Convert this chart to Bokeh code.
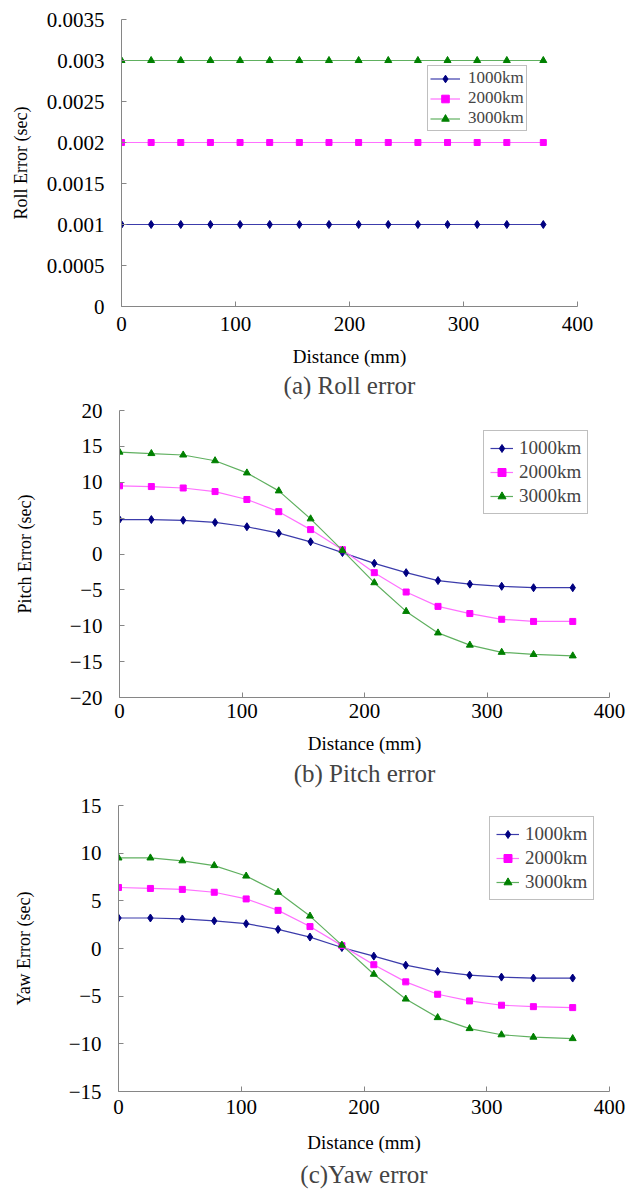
from bokeh.plotting import figure
from bokeh.models import Range1d, FixedTicker, Legend
from bokeh.embed import file_html
from bokeh.resources import INLINE

distance = [0, 26, 52, 78, 104, 130, 156, 182, 208, 234, 260, 286, 312, 338, 370]
series_names = ["1000km", "2000km", "3000km"]

roll_1000 = [0.001, 0.001, 0.001, 0.001, 0.001, 0.001, 0.001, 0.001, 0.001, 0.001, 0.001, 0.001, 0.001, 0.001, 0.001]
roll_2000 = [0.002, 0.002, 0.002, 0.002, 0.002, 0.002, 0.002, 0.002, 0.002, 0.002, 0.002, 0.002, 0.002, 0.002, 0.002]
roll_3000 = [0.003, 0.003, 0.003, 0.003, 0.003, 0.003, 0.003, 0.003, 0.003, 0.003, 0.003, 0.003, 0.003, 0.003, 0.003]

pitch_1000 = [4.8, 4.8, 4.7, 4.4, 3.8, 2.9, 1.7, 0.2, -1.3, -2.6, -3.7, -4.2, -4.5, -4.7, -4.7]
pitch_2000 = [9.5, 9.4, 9.2, 8.7, 7.6, 5.9, 3.4, 0.6, -2.6, -5.3, -7.3, -8.3, -9.1, -9.4, -9.4]
pitch_3000 = [14.2, 14.0, 13.8, 13.0, 11.3, 8.8, 4.9, 0.5, -4.0, -8.0, -11.0, -12.7, -13.7, -14.0, -14.2]

yaw_1000 = [3.2, 3.2, 3.1, 2.9, 2.6, 2.0, 1.2, 0.1, -0.8, -1.75, -2.4, -2.8, -3.0, -3.1, -3.1]
yaw_2000 = [6.4, 6.3, 6.2, 5.9, 5.2, 4.0, 2.3, 0.3, -1.7, -3.5, -4.8, -5.5, -5.95, -6.1, -6.2]
yaw_3000 = [9.5, 9.5, 9.2, 8.7, 7.6, 5.9, 3.4, 0.35, -2.7, -5.3, -7.25, -8.4, -9.05, -9.3, -9.45]

x_ticks = [0, 100, 200, 300, 400]
roll_ticks = [0, 0.0005, 0.001, 0.0015, 0.002, 0.0025, 0.003, 0.0035]
roll_tick_labels = ["0", "0.0005", "0.001", "0.0015", "0.002", "0.0025", "0.003", "0.0035"]
pitch_ticks = [-20, -15, -10, -5, 0, 5, 10, 15, 20]
yaw_ticks = [-15, -10, -5, 0, 5, 10, 15]

FONT = "Times New Roman, Liberation Serif, serif"
AXIS_COLOR = "#868686"
line_colors = ["#3c3cab", "#ff70ff", "#60b060"]
marker_colors = ["#000080", "#ff00ff", "#008000"]
markers = ["diamond", "square", "triangle"]
marker_sizes = [8, 6, 7]


def make_fig(title, ylabel, ys, yrange, yticks, ylabels, height, borders,
             ylab_standoff, legend_pos, legend_cfg, xtick_standoff, xlab_standoff, title_standoff):
    p = figure(width=633, height=height, output_backend="svg", toolbar_location=None,
               x_range=Range1d(0, 400), y_range=Range1d(*yrange),
               min_border_left=borders[0], min_border_right=borders[1],
               min_border_top=borders[2], min_border_bottom=borders[3])
    p.outline_line_color = None
    p.xgrid.visible = False
    p.ygrid.visible = False
    p.background_fill_color = "white"
    p.border_fill_color = "white"

    p.xaxis.ticker = FixedTicker(ticks=x_ticks)
    p.yaxis.ticker = FixedTicker(ticks=yticks)
    if ylabels is not None:
        p.yaxis.major_label_overrides = {t: l for t, l in zip(yticks, ylabels)}
    for ax in (p.xaxis, p.yaxis):
        ax.axis_line_color = AXIS_COLOR
        ax.major_tick_line_color = AXIS_COLOR
        ax.major_tick_in = 5
        ax.major_tick_out = 0
        ax.minor_tick_line_color = None
        ax.major_label_text_font = FONT
        ax.major_label_text_font_size = "21px"
        ax.major_label_text_color = "black"
        ax.axis_label_text_font = FONT
        ax.axis_label_text_font_style = "normal"
        ax.axis_label_text_color = "black"
    p.xaxis.axis_label = "Distance (mm)"
    p.xaxis.axis_label_text_font_size = "19px"
    p.xaxis.major_label_standoff = xtick_standoff
    p.xaxis.axis_label_standoff = xlab_standoff
    p.yaxis.axis_label = ylabel
    p.yaxis.axis_label_text_font_size = "18px"
    p.yaxis.major_label_standoff = 17
    p.yaxis.axis_label_standoff = ylab_standoff

    items = []
    for i, name in enumerate(series_names):
        r1 = p.line(distance, ys[i], line_color=line_colors[i], line_width=1.2)
        r2 = p.scatter(distance, ys[i], marker=markers[i], size=marker_sizes[i],
                       fill_color=marker_colors[i], line_color=marker_colors[i])
        items.append((name, [r1, r2]))
    pad, h, sp, fs, gw, ls = legend_cfg
    legend = Legend(items=items, location=legend_pos, padding=pad, spacing=sp,
                    glyph_height=h, label_height=h, glyph_width=gw, label_standoff=ls,
                    label_text_font=FONT, label_text_font_size=fs,
                    border_line_color="#808080", border_line_width=1.5,
                    background_fill_alpha=1.0, margin=0)
    p.add_layout(legend, "center")

    p.title.text = title
    p.title_location = "below"
    p.title.align = "center"
    p.title.text_font = FONT
    p.title.text_font_size = "25px"
    p.title.text_font_style = "normal"
    p.title.standoff = title_standoff
    return p


p1 = make_fig("(a) Roll error", "Roll Error (sec)", [roll_1000, roll_2000, roll_3000],
              (0, 0.0035), roll_ticks, roll_tick_labels, 400, (121, 56, 19, 94),
              13, (306, 175), (2, 19, 0, "17px", 30, 8), 10, 12, 0)
p2 = make_fig("(b) Pitch error", "Pitch Error (sec)", [pitch_1000, pitch_2000, pitch_3000],
              (-20, 20), pitch_ticks, None, 390, (119, 24, 10, 93),
              32, (364, 183), (6, 20, 2, "19px", 23, 6), 6, 12, 2)
p3 = make_fig("(c)Yaw error", "Yaw Error (sec)", [yaw_1000, yaw_2000, yaw_3000],
              (-15, 15), yaw_ticks, None, 401, (118, 24, 15, 99),
              32, (371, 191), (6, 20, 2, "19px", 23, 6), 8, 15, 7)

html = file_html([p1, p2, p3], INLINE)
html = html.replace("<head>", "<head><style>body{margin:0;padding:0;} body > div{display:block;}</style>", 1)
open("out.html", "w").write(html)
